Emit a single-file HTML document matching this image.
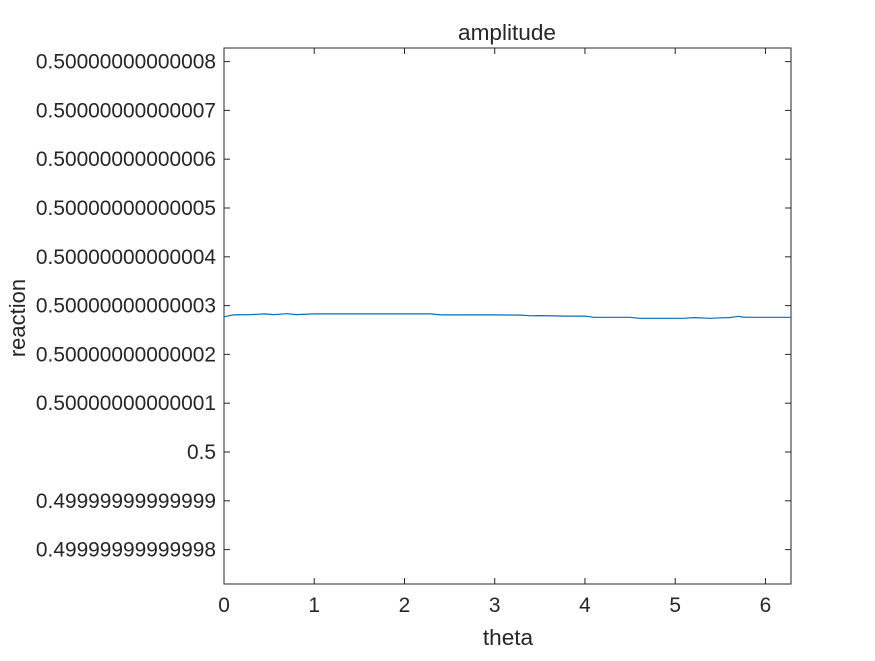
<!DOCTYPE html>
<html><head><meta charset="utf-8"><style>
body{margin:0;background:#fff;font-family:"Liberation Sans",Arial,sans-serif;}
svg text{font-family:"Liberation Sans",Arial,sans-serif;fill:#262626;}
</style></head><body>
<svg id="chart" width="875" height="656" xmlns="http://www.w3.org/2000/svg">
<rect width="875" height="656" fill="#fff"/>
<g id="g"></g>
</svg>
<script>
// values: offset from 0.5 in units of 1e-14
const thetas = [0,0.1,0.3,0.45,0.55,0.7,0.8,1.0,1.5,2.0,2.3,2.4,3.0,3.3,3.4,3.5,3.8,4.0,4.1,4.5,4.6,5.0,5.1,5.2,5.4,5.5,5.6,5.7,5.75,5.85,6.283];
const values = [2.77,2.81,2.815,2.83,2.815,2.835,2.815,2.83,2.83,2.83,2.83,2.81,2.81,2.805,2.79,2.795,2.785,2.785,2.76,2.76,2.74,2.74,2.74,2.755,2.74,2.75,2.755,2.78,2.765,2.76,2.76];
const yTicks = [-2,-1,0,1,2,3,4,5,6,7,8];
const yTickLabels = ["0.49999999999998","0.49999999999999","0.5","0.50000000000001","0.50000000000002","0.50000000000003","0.50000000000004","0.50000000000005","0.50000000000006","0.50000000000007","0.50000000000008"];
const xTicks = [0,1,2,3,4,5,6];
const L=224,R=791,T=48,B=584;
const xs = v => L + v*(R-L)/6.2832;
const ys = v => 452 - v*48.8;
const g=document.getElementById('g');
const NS="http://www.w3.org/2000/svg";
function mk(tag,attrs,txt){const e=document.createElementNS(NS,tag);for(const k in attrs)e.setAttribute(k,attrs[k]);if(txt!==undefined)e.textContent=txt;g.appendChild(e);return e;}
const box=mk('rect',{x:L,y:T,width:R-L,height:B-T,fill:'none',stroke:'#262626','stroke-width':1});


yTicks.forEach((t,i)=>{const y=ys(t);
 const a=mk('line',{x1:L,x2:L+6,y1:y,y2:y,stroke:'#262626'});
 
 
 const b=mk('line',{x1:R-6,x2:R,y1:y,y2:y,stroke:'#262626'});
 
 
 const tx=mk('text',{x:216,y:y+7,'text-anchor':'end','font-size':20.9},yTickLabels[i]);
 
 
});
xTicks.forEach(t=>{const x=xs(t);
 const a=mk('line',{x1:x,x2:x,y1:B,y2:B-6,stroke:'#262626'});
 
 
 const b=mk('line',{x1:x,x2:x,y1:T,y2:T+6,stroke:'#262626'});
 
 
 const tx=mk('text',{x:x,y:612,'text-anchor':'middle','font-size':20.9},String(t));
 
 
});
const pts=thetas.map((t,i)=>xs(t).toFixed(1)+','+ys(values[i]).toFixed(1)).join(' ');
const line=mk('polyline',{points:pts,fill:'none',stroke:'#0072bd','stroke-width':1.2});


const ti=mk('text',{x:507,y:40,'text-anchor':'middle','font-size':22.6},'amplitude');


const xl=mk('text',{x:508,y:645,'text-anchor':'middle','font-size':22.6},'theta');


const yl=mk('text',{x:25,y:318,'text-anchor':'middle','font-size':22,transform:'rotate(-90 25 318)'},'reaction');


</script>
</body></html>
